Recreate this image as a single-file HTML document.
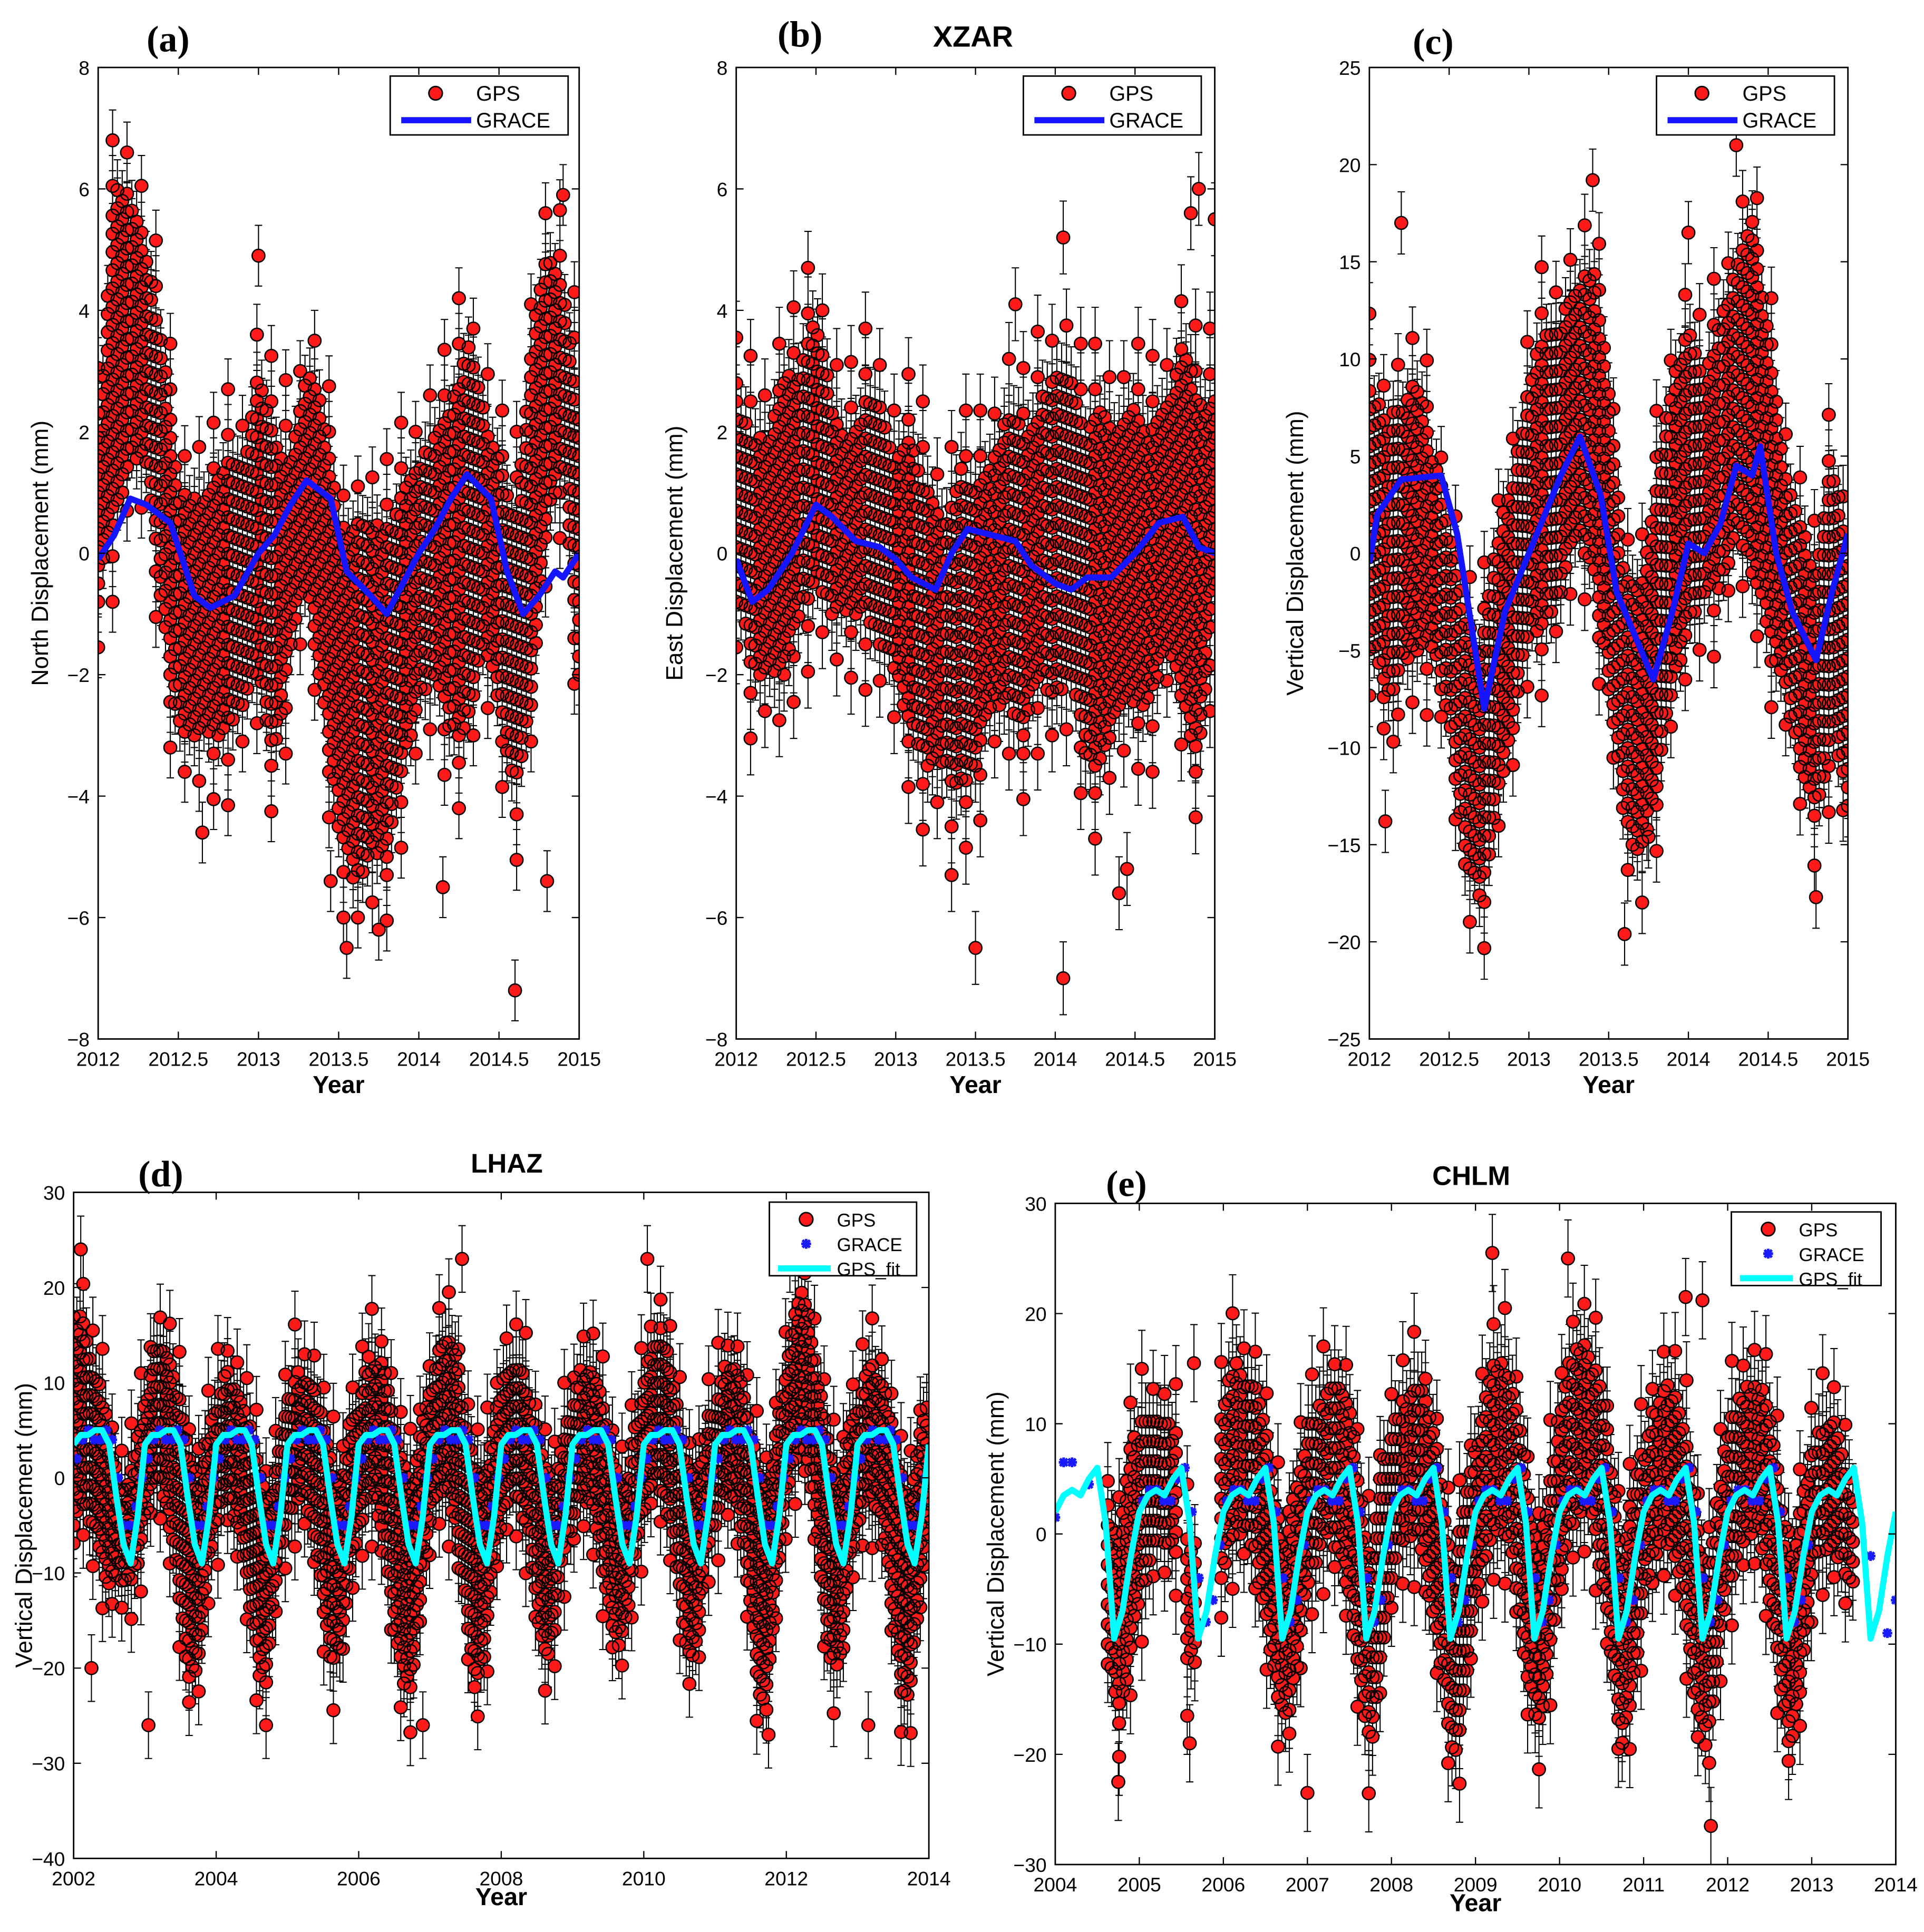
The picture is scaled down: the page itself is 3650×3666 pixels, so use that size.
<!DOCTYPE html>
<html><head><meta charset="utf-8"><style>
html,body{margin:0;padding:0;background:#fff}
svg{display:block}
text{font-family:"Liberation Sans",sans-serif}
</style></head><body>
<svg id="fig" xmlns="http://www.w3.org/2000/svg" width="3650" height="3666" viewBox="0 0 1568 1575" preserveAspectRatio="none">
<rect x="0" y="0" width="1568" height="1575" fill="#fff"/>
<text x="137" y="42" font-weight="bold" font-size="30" text-anchor="middle" style="font-family:'Liberation Serif',serif">(a)</text>
<text x="652" y="38" font-weight="bold" font-size="30" text-anchor="middle" style="font-family:'Liberation Serif',serif">(b)</text>
<text x="793" y="38" font-weight="bold" font-size="24" text-anchor="middle">XZAR</text>
<text x="1168" y="44" font-weight="bold" font-size="30" text-anchor="middle" style="font-family:'Liberation Serif',serif">(c)</text>
<text x="131" y="967" font-weight="bold" font-size="30" text-anchor="middle" style="font-family:'Liberation Serif',serif">(d)</text>
<text x="413" y="956" font-weight="bold" font-size="22" text-anchor="middle">LHAZ</text>
<text x="918" y="975" font-weight="bold" font-size="30" text-anchor="middle" style="font-family:'Liberation Serif',serif">(e)</text>
<text x="1199" y="966" font-weight="bold" font-size="22" text-anchor="middle">CHLM</text>
</svg>
<script>
// ---------- Panel (a) North, XZAR ----------
const aEnvT0 = 2012, aEnvStep = 0.1;
const aHi = [2,6,6,5,3.5,1,1,1,1.5,1.5,3,2,1.5,3,2.5,0.5,0.5,0.5,0.5,1,1.5,2,2.5,3.5,2.5,1.5,0.5,3.5,5,4.5,2.5];
const aLo = [-0.5,0.5,1.5,1.5,-1,-3,-3,-3,-3,-2.5,-2,-3.5,-1.5,-0.5,-2.5,-4.5,-5.5,-5,-5,-3.5,-2.5,-2,-3,-3,-1.5,-2.5,-4,-2.5,0.5,1.5,-2];
const aOutT = [2013.45,2013.55,2013.75,2014.6,2014.8,2012.65,2014.15,2013.0,2014.9];
const aOutV = [-5.4,-6.5,-6.2,-7.2,-5.4,-4.6,-5.5,4.9,5.9];
const aGraceT = [2012,2012.1,2012.2,2012.3,2012.45,2012.6,2012.7,2012.85,2013.0,2013.1,2013.2,2013.3,2013.45,2013.55,2013.7,2013.8,2013.9,2014.0,2014.1,2014.2,2014.3,2014.45,2014.55,2014.65,2014.75,2014.85,2014.9,2015];
const aGraceV = [-0.1,0.3,0.9,0.8,0.5,-0.7,-0.9,-0.7,0,0.3,0.8,1.2,0.9,-0.3,-0.7,-1.0,-0.5,0,0.4,0.9,1.3,0.9,-0.3,-1.0,-0.7,-0.3,-0.4,0];
// ---------- Panel (b) East ----------
const bHi = [2.5,2,2,3,3,4,2.5,2,2.5,2.5,1.5,2,1,0.5,1.5,1,1.5,2.5,2,2.5,3,3,2,2.5,2,2.5,2,2.5,3.5,2.5,2.5];
const bLo = [-0.5,-2,-2,-2,-1,-0.5,-1,-1,-1,-1.5,-2,-3,-3.5,-3.5,-4,-3.5,-2.5,-2.5,-3,-2,-2.5,-2,-3.5,-3.5,-2.5,-2.5,-2.5,-1.5,-2.5,-3.5,-0.5];
const bOutT = [2013.5,2014.05,2014.4,2014.45,2014.05,2014.9,2015,2014.85,2013.35,2013.75];
const bOutV = [-6.5,-7,-5.6,-5.2,5.2,6,5.5,5.6,-5.3,4.1];
const bGraceT = [2012,2012.1,2012.2,2012.35,2012.5,2012.6,2012.75,2012.9,2013,2013.1,2013.25,2013.35,2013.45,2013.6,2013.75,2013.85,2014,2014.1,2014.2,2014.35,2014.5,2014.65,2014.8,2014.9,2015];
const bGraceV = [-0.1,-0.8,-0.6,0,0.8,0.6,0.2,0.1,-0.1,-0.4,-0.6,0,0.4,0.3,0.2,-0.2,-0.5,-0.6,-0.4,-0.4,0,0.5,0.6,0.1,0];
// ---------- Panel (c) Vertical ----------
const cHi = [9,7,8,9,5,2,-3,-5,1,4,9,12,12,14,15,9,-1,-2,4,9,12,9,12,15,18,11,5,2,-1,5,0];
const cLo = [-4,-8,-6,-5,-5,-9,-16,-18,-13,-9,-4,-4,-2,1,-1,-7,-14,-16,-12,-7,-4,-2,-2,1,-1,-4,-7,-11,-14,-9,-13];
const cOutT = [2012.2,2012.1,2012.15,2013.6,2014.8,2014.3,2013.75,2013.4,2014.0];
const cOutV = [17,-13.8,-9.7,-19.6,-17.7,21,-14.6,19.2,16.5];
const cGraceT = [2012,2012.05,2012.2,2012.45,2012.55,2012.72,2012.85,2013,2013.1,2013.2,2013.32,2013.45,2013.55,2013.78,2013.9,2014,2014.1,2014.2,2014.3,2014.4,2014.45,2014.55,2014.65,2014.8,2014.9,2015];
const cGraceV = [-0.5,2,3.8,4,1,-8,-3,0,2,4,6,3,-2,-6.5,-3,0.5,0,1.5,4.5,4,5.5,0,-3,-5.5,-2,1];
// ---------- Panel (d) LHAZ ----------
const dEnvT0 = 2002, dEnvStep = 0.125;
const dHi = [15,18,12,10,5,0,0,4, 8,14,14,12,8,3,0,5, 8,12,10,8,5,0,-2,4, 8,12,11,10,6,2,0,6, 8,13,13,12,6,2,0,6, 9,14,15,13,6,2,0,6, 10,13,12,10,5,2,0,5, 8,12,12,10,5,1,0,6, 10,15,16,12,6,2,0,6, 8,12,12,10,5,1,0,6, 12,18,20,15,8,2,0,6, 8,12,12,10,5,0,-2,5, 10];
const dLo = [-5,-3,-5,-8,-12,-10,-12,-10, -5,0,-2,-6,-14,-22,-20,-10, -5,-2,-4,-8,-15,-22,-18,-8, -5,-2,-3,-6,-14,-20,-18,-10, -6,-2,-3,-8,-16,-22,-22,-12, -5,-1,-2,-6,-14,-22,-20,-10, -5,-1,-3,-6,-14,-20,-16,-8, -5,-2,-3,-7,-14,-18,-16,-8, -4,0,-2,-5,-12,-20,-18,-8, -5,-2,-2,-6,-14,-24,-22,-10, -2,2,3,-2,-12,-20,-20,-10, -5,-2,-3,-6,-15,-24,-22,-12, -5];
const dOutT = [2003.05,2002.25,2011.75,2013.15,2004.7,2006.9,2002.1,2007.45,2012.05,2010.05];
const dOutV = [-26,-20,-27,-26,-26,-26,24,23,23,23];
const dFitPhase = [0,0.1,0.2,0.3,0.4,0.5,0.6,0.7,0.8,0.9];
const dFitVals = [3.5,4.5,4.5,5,5,3.5,-2,-7,-9,-4];
const dGraceMonth = [2,4,5,4,4,5,4,0,-5,-5,-3,0];
// ---------- Panel (e) CHLM ----------
const eEnvT0 = 2004.625, eEnvStep = 0.125;
const eHi = [3,0,8, 10,12,10,10,null,0,null,null, 12,16,15,14,10,3,-2,6, 10,12,13,14,12,4,-2,6, 10,12,14,13,10,3,-3,4, 8,14,16,16,12,4,-2,5, 12,16,18,16,14,6,-2,5, 8,12,14,13,10,3,-4,4, 10,13,14,14,12,4,-3,4, 8,10,12,8,4];
const eLo = [-10,-18,-12, -6,-3,0,-2,null,-12,null,null, -4,0,0,-2,-8,-14,-18,-12, -5,-2,0,-2,-6,-14,-20,-12, -4,-1,0,-2,-8,-14,-22,-14, -6,-2,0,0,-6,-14,-18,-12, -4,0,2,2,-4,-12,-20,-14, -6,-2,-1,-2,-8,-16,-20,-12, -5,-2,0,0,-6,-14,-20,-14, -4,-1,-2,-3,-6];
const eOutT = [2004.75,2005.6,2007.0,2011.8,2005.65,2010.1,2009.2,2011.5,2011.7];
const eOutV = [-22.5,-19,-23.5,-26.5,15.5,25,25.5,21.5,21.2];
const eFitPhase = [0,0.1,0.2,0.3,0.4,0.5,0.6,0.7,0.8,0.9];
const eFitVals = [2,3.5,4,3.5,5,6,1,-9.5,-7,-2];
const eGraceMonth = [3,4,4,3,3,5,6,2,-4,-8,-6,-1];
const eGraceExtraT = [2004.0,2004.1,2004.2,2004.4,2013.7,2013.9,2014.0];
const eGraceExtraV = [1.5,6.5,6.5,4.5,-2,-9,-6];

const NS = "http://www.w3.org/2000/svg";
const svg = document.getElementById('fig');
function mk(tag, attrs, parent){
  const e = document.createElementNS(NS, tag);
  for (const k in attrs) e.setAttribute(k, attrs[k]);
  (parent||svg).appendChild(e);
  return e;
}
function fmt(v){ return (Math.round(v*100)/100).toString(); }

function drawPanel(P){
  const g = mk('g', {});
  
  
  const sx = t => P.x0 + (t - P.tmin)/(P.tmax - P.tmin)*(P.x1 - P.x0);
  const sy = v => P.y1 - (v - P.vmin)/(P.vmax - P.vmin)*(P.y1 - P.y0);
  const clip = mk('clipPath', {id: P.id+'clip'}, g);
  mk('rect', {x:P.x0, y:P.y0, width:P.x1-P.x0, height:P.y1-P.y0}, clip);
  const plot = mk('g', {'clip-path':'url(#'+P.id+'clip)'}, g);
  
  
  let pts = [];
  const nEnv = P.hi.length;
  const tEnd = P.t0 + (nEnv-1)*P.step;
  let col = 0;
  for (let t = P.t0; t <= tEnd + 1e-9; t += P.dt, col++){
    const f = (t - P.t0)/P.step;
    let i = Math.floor(f); if (i >= nEnv-1) i = nEnv-2; if (i<0) i=0;
    const fr = Math.min(1, f - i);
    let hi, lo;
    const h0 = P.hi[i], h1 = P.hi[i+1];
    if (h0 === null && h1 === null) continue;
    if (h0 === null || h1 === null){
      const k = (h0 === null) ? i+1 : i;
      if ((h0 === null && fr < 0.5) || (h1 === null && fr >= 0.5)) continue;
      hi = P.hi[k]; lo = P.lo[k];
    } else {
      hi = h0 + (h1-h0)*fr; lo = P.lo[i] + (P.lo[i+1]-P.lo[i])*fr;
    }
    const off = ((col*7)%5)/5*P.dv;
    for (let v = lo + off; v <= hi; v += P.dv) pts.push([t, v]);
    // sparser halo beyond the dense core
    if (col % 3 === 0){
      const o2 = ((col*3)%4)/4*P.dv*2;
      for (let v = hi + P.dv + o2; v <= hi + P.ext; v += P.dv*2.5) pts.push([t, v]);
      for (let v = lo - P.dv - o2; v >= lo - P.ext; v -= P.dv*2.5) pts.push([t, v]);
    }
  }
  for (let k=0;k<P.outT.length;k++) pts.push([P.outT[k], P.outV[k]]);
  let eb = '', cs = '';
  const r = 5.2;
  for (const [t,v] of pts){
    const X = sx(t), Y = sy(v), ya = sy(v+P.err), yb = sy(v-P.err);
    eb += 'M'+fmt(X)+' '+fmt(ya)+'V'+fmt(yb)+'M'+fmt(X-3)+' '+fmt(ya)+'h6M'+fmt(X-3)+' '+fmt(yb)+'h6';
    cs += 'M'+fmt(X-r)+' '+fmt(Y)+'a'+r+' '+r+' 0 1 0 '+(2*r)+' 0a'+r+' '+r+' 0 1 0 '+(-2*r)+' 0';
  }
  const ebp = mk('path', {d:eb, stroke:'#000', 'stroke-width':0.9, fill:'none'}, plot);
  
  
  const cp = mk('path', {d:cs, fill:'#ff1a1a', stroke:'#000', 'stroke-width':1.1}, plot);
  
  
  if (P.graceT){
    let d = '';
    P.graceT.forEach((t,k)=>{ d += (k?'L':'M')+fmt(sx(t))+' '+fmt(sy(P.graceV[k])); });
    const gl = mk('path', {d:d, stroke:'#1515ff', 'stroke-width':5, fill:'none', 'stroke-linejoin':'round'}, plot);
    
    
  }
  if (P.graceMonth){
    let d = '';
    const addStar = (t,v)=>{ const X=sx(t),Y=sy(v); d += 'M'+fmt(X-3)+' '+fmt(Y-3)+'l6 6M'+fmt(X+3)+' '+fmt(Y-3)+'l-6 6M'+fmt(X-4)+' '+fmt(Y)+'h8M'+fmt(X)+' '+fmt(Y-4)+'v8'; };
    for (let y = P.gStart; y < P.gEnd; y++) for (let m=0;m<12;m++) addStar(y + (m+0.5)/12, P.graceMonth[m]);
    if (P.gxT) P.gxT.forEach((t,k)=>addStar(t, P.gxV[k]));
    const gd = mk('path', {d:d, stroke:'#1a1aff', 'stroke-width':2.2, fill:'none'}, plot);
    
    
  }
  if (P.fitVals){
    let d = '', first = true;
    for (let y = Math.floor(P.tmin); y < P.tmax; y++){
      for (let k=0;k<P.fitPhase.length;k++){
        d += (first?'M':'L')+fmt(sx(y+P.fitPhase[k]))+' '+fmt(sy(P.fitVals[k])); first=false;
      }
    }
    d += 'L'+fmt(sx(P.tmax))+' '+fmt(sy(P.fitVals[0]));
    const fl = mk('path', {d:d, stroke:'#00ffff', 'stroke-width':5, fill:'none', 'stroke-linejoin':'round'}, plot);
    
    
  }
  const box = mk('rect', {x:P.x0, y:P.y0, width:P.x1-P.x0, height:P.y1-P.y0, fill:'none', stroke:'#000', 'stroke-width':1.2}, g);
  
  
  let tk = '';
  for (let v = P.vmin; v <= P.vmax + 1e-9; v += P.ystep){
    const Y = sy(v);
    tk += 'M'+P.x0+' '+fmt(Y)+'h6M'+P.x1+' '+fmt(Y)+'h-6';
    const tl = mk('text', {x:P.x0-7, y:Y+6, 'font-size':16, 'text-anchor':'end'}, g);
    tl.textContent = String(v).replace('-', '\u2212');
    
    
  }
  P.xticks.forEach(t=>{
    const X = sx(t);
    tk += 'M'+fmt(X)+' '+P.y1+'v-6M'+fmt(X)+' '+P.y0+'v6';
    const tl = mk('text', {x:X, y:P.y1+22, 'font-size':16, 'text-anchor':'middle'}, g);
    tl.textContent = String(t);
    
    
  });
  const tp = mk('path', {d:tk, stroke:'#000', 'stroke-width':1}, g);
  
  
  const xl = mk('text', {x:(P.x0+P.x1)/2, y:P.y1+P.xlabOff, 'font-size':20, 'font-weight':'bold', 'text-anchor':'middle'}, g);
  xl.textContent = 'Year';
  
  
  const cy = (P.y0+P.y1)/2;
  const yl = mk('text', {x:P.ylabX, y:cy, 'font-size':19, 'text-anchor':'middle', transform:'rotate(-90 '+P.ylabX+' '+cy+')'}, g);
  yl.textContent = P.ylab;
  
  
  const L = P.legend;
  const lg = mk('g', {}, g);
  
  
  mk('rect', {x:L.x, y:L.y, width:L.w, height:L.h, fill:'#fff', stroke:'#000', 'stroke-width':1.2}, lg);
  L.items.forEach((it,k)=>{
    const Y = L.y + 14 + k*L.row;
    const mx = L.x + L.mx;
    if (it.kind==='gps'){
      mk('circle', {cx:mx, cy:Y, r:5.5, fill:'#ff1a1a', stroke:'#000', 'stroke-width':1.2}, lg);
    } else if (it.kind==='graceline'){
      mk('line', {x1:L.x+9, x2:L.x+66, y1:Y, y2:Y, stroke:'#1515ff', 'stroke-width':5}, lg);
    } else if (it.kind==='gracedot'){
      mk('path', {d:'M'+(mx-3)+' '+(Y-3)+'l6 6M'+(mx+3)+' '+(Y-3)+'l-6 6M'+(mx-4)+' '+Y+'h8M'+mx+' '+(Y-4)+'v8', stroke:'#1a1aff','stroke-width':2.2}, lg);
    } else {
      mk('line', {x1:L.x+7, x2:L.x+50, y1:Y, y2:Y, stroke:'#00ffff', 'stroke-width':5}, lg);
    }
    const tx = mk('text', {x:L.x+L.tx, y:Y+6, 'font-size':L.fs}, lg);
    tx.textContent = it.label;
    
    
  });
}

const legABC = x => ({x:x, y:62, w:145, h:48, row:22, mx:37, tx:70, fs:17, items:[{kind:'gps',label:'GPS'},{kind:'graceline',label:'GRACE'}]});
drawPanel({id:'panel-a', name:'panel-a-north', x0:80,x1:472,y0:55,y1:847,tmin:2012,tmax:2015,vmin:-8,vmax:8,ystep:2,
  xticks:[2012,2012.5,2013,2013.5,2014,2014.5,2015], t0:aEnvT0, step:aEnvStep, hi:aHi, lo:aLo, outT:aOutT, outV:aOutV,
  dt:0.03, dv:0.3, ext:1.2, err:0.5, graceT:aGraceT, graceV:aGraceV, ylab:'North Displacement (mm)', ylabX:39, xlabOff:44, legend:legABC(318)});
drawPanel({id:'panel-b', name:'panel-b-east', x0:600,x1:990,y0:55,y1:847,tmin:2012,tmax:2015,vmin:-8,vmax:8,ystep:2,
  xticks:[2012,2012.5,2013,2013.5,2014,2014.5,2015], t0:aEnvT0, step:aEnvStep, hi:bHi, lo:bLo, outT:bOutT, outV:bOutV,
  dt:0.03, dv:0.3, ext:1.2, err:0.6, graceT:bGraceT, graceV:bGraceV, ylab:'East Displacement (mm)', ylabX:556, xlabOff:44, legend:legABC(834)});
drawPanel({id:'panel-c', name:'panel-c-vertical', x0:1116,x1:1506,y0:55,y1:847,tmin:2012,tmax:2015,vmin:-25,vmax:25,ystep:5,
  xticks:[2012,2012.5,2013,2013.5,2014,2014.5,2015], t0:aEnvT0, step:aEnvStep, hi:cHi, lo:cLo, outT:cOutT, outV:cOutV,
  dt:0.03, dv:0.95, ext:3.5, err:1.6, graceT:cGraceT, graceV:cGraceV, ylab:'Vertical Displacement (mm)', ylabX:1062, xlabOff:44, legend:legABC(1350)});
drawPanel({id:'panel-d', name:'panel-d-lhaz', x0:60,x1:757,y0:972,y1:1515,tmin:2002,tmax:2014,vmin:-40,vmax:30,ystep:10,
  xticks:[2002,2004,2006,2008,2010,2012,2014], t0:dEnvT0, step:dEnvStep, hi:dHi, lo:dLo, outT:dOutT, outV:dOutV,
  dt:0.045, dv:1.9, ext:6, err:3.5, graceMonth:dGraceMonth, gStart:2002, gEnd:2014, fitPhase:dFitPhase, fitVals:dFitVals,
  ylab:'Vertical Displacement (mm)', ylabX:26, xlabOff:38,
  legend:{x:627,y:980,w:120,h:60,row:20,mx:30,tx:55,fs:15,items:[{kind:'gps',label:'GPS'},{kind:'gracedot',label:'GRACE'},{kind:'fit',label:'GPS_fit'}]}});
drawPanel({id:'panel-e', name:'panel-e-chlm', x0:860,x1:1545,y0:981,y1:1520,tmin:2004,tmax:2014,vmin:-30,vmax:30,ystep:10,
  xticks:[2004,2005,2006,2007,2008,2009,2010,2011,2012,2013,2014], t0:eEnvT0, step:eEnvStep, hi:eHi, lo:eLo, outT:eOutT, outV:eOutV,
  dt:0.045, dv:1.8, ext:6, err:3.5, graceMonth:eGraceMonth, gStart:2005, gEnd:2013, gxT:eGraceExtraT, gxV:eGraceExtraV,
  fitPhase:eFitPhase, fitVals:eFitVals, ylab:'Vertical Displacement (mm)', ylabX:818, xlabOff:38,
  legend:{x:1411,y:988,w:122,h:60,row:20,mx:30,tx:55,fs:15,items:[{kind:'gps',label:'GPS'},{kind:'gracedot',label:'GRACE'},{kind:'fit',label:'GPS_fit'}]}});
</script>
</body></html>
